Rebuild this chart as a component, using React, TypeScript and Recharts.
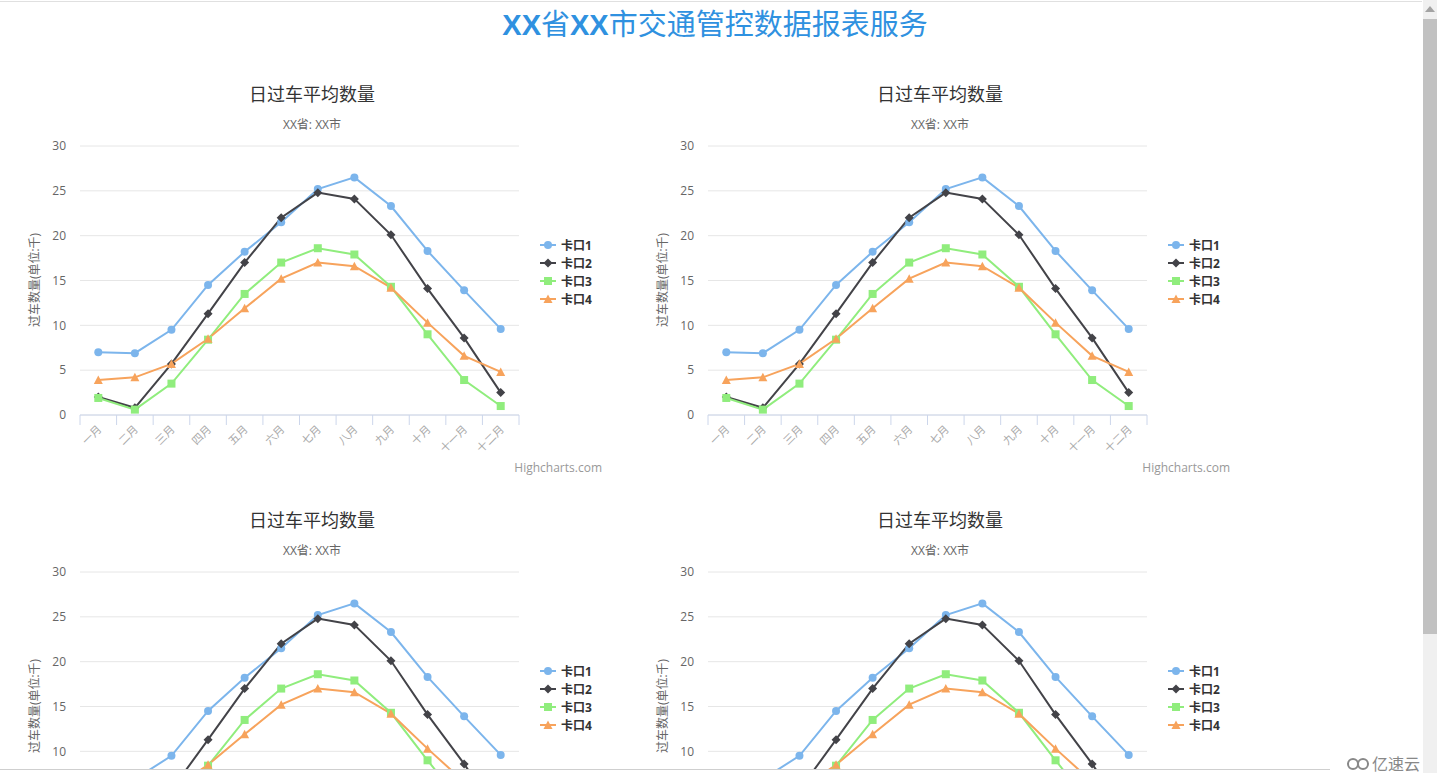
import React from "react";
import { CartesianGrid, Line, LineChart, XAxis, YAxis } from "recharts";

// Four copies of the same Highcharts-style line chart on a report page.

const months = ["一月", "二月", "三月", "四月", "五月", "六月", "七月", "八月", "九月", "十月", "十一月", "十二月"];
const gate1 = [7.0, 6.9, 9.5, 14.5, 18.2, 21.5, 25.2, 26.5, 23.3, 18.3, 13.9, 9.6];
const gate2 = [2.0, 0.8, 5.7, 11.3, 17.0, 22.0, 24.8, 24.1, 20.1, 14.1, 8.6, 2.5];
const gate3 = [1.9, 0.6, 3.5, 8.4, 13.5, 17.0, 18.6, 17.9, 14.3, 9.0, 3.9, 1.0];
const gate4 = [3.9, 4.2, 5.7, 8.5, 11.9, 15.2, 17.0, 16.6, 14.2, 10.3, 6.6, 4.8];
const yTicks = [0, 5, 10, 15, 20, 25, 30];
const seriesNames = ["卡口1", "卡口2", "卡口3", "卡口4"];
const seriesKeys = ["g1", "g2", "g3", "g4"];
const seriesColors = ["#7cb5ec", "#434348", "#90ed7d", "#f7a35c"];
const markers = ["circle", "diamond", "square", "triangle"];

const data = months.map((m, i) => ({ month: m, g1: gate1[i], g2: gate2[i], g3: gate3[i], g4: gate4[i] }));

const FONT = '"Open Sans", "Noto Sans CJK SC", sans-serif';
const W = 624;
const H = 420;
const PLOT_LEFT = 80;
const PLOT_RIGHT = 519;
const PLOT_TOP = 86;
const PLOT_BOTTOM = 355;
const BW = (PLOT_RIGHT - PLOT_LEFT) / months.length;

function Marker({ kind, cx, cy, color }: { kind: string; cx: number; cy: number; color: string }) {
  if (kind === "circle") return <circle cx={cx} cy={cy} r={4} fill={color} />;
  if (kind === "diamond")
    return <path d={`M${cx} ${cy - 4.5}L${cx + 4.5} ${cy}L${cx} ${cy + 4.5}L${cx - 4.5} ${cy}Z`} fill={color} />;
  if (kind === "square") return <rect x={cx - 4} y={cy - 4} width={8} height={8} fill={color} />;
  return <path d={`M${cx} ${cy - 4.5}L${cx + 4.5} ${cy + 4}L${cx - 4.5} ${cy + 4}Z`} fill={color} />;
}

function MonthTick(props: any) {
  const { x, payload, index } = props;
  const y = PLOT_BOTTOM;
  return (
    <g>
      {index === 0 && <line x1={x - BW / 2} x2={x - BW / 2} y1={y} y2={y + 10} stroke="#ccd6eb" />}
      <line x1={x + BW / 2} x2={x + BW / 2} y1={y} y2={y + 10} stroke="#ccd6eb" />
      <text
        x={x + 4}
        y={y + 15}
        transform={`rotate(-45 ${x + 4} ${y + 15})`}
        textAnchor="end"
        fontSize={11}
        fill="#aaa"
        fontFamily={FONT}
      >
        {payload.value}
      </text>
    </g>
  );
}

function Chart({ left, top }: { left: number; top: number }) {
  return (
    <div style={{ position: "absolute", left, top, width: W, height: H, fontFamily: FONT }}>
      <div style={{ position: "absolute", left: 0, width: W, top: 20, textAlign: "center", fontSize: 18, color: "#333" }}>
        日过车平均数量
      </div>
      <div style={{ position: "absolute", left: 0, width: W, top: 55, textAlign: "center", fontSize: 12, color: "#666" }}>
        XX省: XX市
      </div>
      <LineChart width={W} height={H} data={data} margin={{ top: PLOT_TOP, right: W - PLOT_RIGHT, bottom: 25, left: 0 }}>
        <CartesianGrid horizontal vertical={false} stroke="#e6e6e6" />
        <XAxis
          dataKey="month"
          height={40}
          interval={0}
          padding={{ left: BW / 2, right: BW / 2 }}
          axisLine={{ stroke: "#ccd6eb" }}
          tickLine={false}
          tick={<MonthTick />}
        />
        <YAxis
          width={PLOT_LEFT}
          domain={[0, 30]}
          ticks={yTicks}
          axisLine={false}
          tickLine={false}
          tickSize={12}
          tick={{ fontSize: 12, fill: "#666", fontFamily: FONT }}
        />
        {seriesKeys.map((k, si) => (
          <Line
            key={k}
            dataKey={k}
            type="linear"
            stroke={seriesColors[si]}
            strokeWidth={2}
            isAnimationActive={false}
            activeDot={false}
            dot={(p: any) => (
              <Marker key={`${k}-${p.index}`} kind={markers[si]} cx={p.cx} cy={p.cy} color={seriesColors[si]} />
            )}
          />
        ))}
      </LineChart>
      <div
        style={{
          position: "absolute",
          left: 34,
          top: 220,
          transform: "translate(-50%, -50%) rotate(-90deg)",
          whiteSpace: "nowrap",
          fontSize: 12,
          color: "#666",
        }}
      >
        过车数量(单位:千)
      </div>
      {seriesNames.map((n, i) => (
        <div
          key={n}
          style={{ position: "absolute", left: 540, top: 176 + i * 18, height: 18, display: "flex", alignItems: "center" }}
        >
          <svg width={18} height={18}>
            <line x1={0} x2={16} y1={9} y2={9} stroke={seriesColors[i]} strokeWidth={2} />
            <Marker kind={markers[i]} cx={8} cy={9} color={seriesColors[i]} />
          </svg>
          <span style={{ marginLeft: 3, fontSize: 12, fontWeight: "bold", color: "#333" }}>{n}</span>
        </div>
      ))}
      <div style={{ position: "absolute", right: 22, top: 399, fontSize: 12, color: "#999" }}>Highcharts.com</div>
    </div>
  );
}

export default function App() {
  return (
    <div style={{ position: "absolute", left: 0, top: 0, width: 1437, height: 773, overflow: "hidden", background: "#fff" }}>
      <div style={{ position: "absolute", left: 0, top: 1, width: 1422, height: 1, background: "#e0e0e0" }} />
      <div
        style={{
          position: "absolute",
          left: 0,
          width: 1430,
          top: 1,
          textAlign: "center",
          fontSize: 29,
          color: "#2f91e0",
          fontFamily: '"Noto Sans CJK SC", sans-serif',
        }}
      >
        <b style={{ fontFamily: '"Liberation Sans", Arial, sans-serif' }}>XX</b>省
        <b style={{ fontFamily: '"Liberation Sans", Arial, sans-serif' }}>XX</b>市交通管控数据报表服务
      </div>
      <Chart left={0} top={60} />
      <Chart left={628} top={60} />
      <Chart left={0} top={486} />
      <Chart left={628} top={486} />
      {/* page scrollbar and bottom strip */}
      <div style={{ position: "absolute", left: 1423, top: 0, width: 14, height: 773, background: "#f0f0f0" }} />
      <div style={{ position: "absolute", left: 1423, top: 19, width: 14, height: 615, background: "#c1c1c1" }} />
      <svg style={{ position: "absolute", left: 1425, top: 6 }} width={10} height={6}>
        <path d="M5 0L10 6L0 6Z" fill="#a3a3a3" />
      </svg>
      <div style={{ position: "absolute", left: 0, top: 769, width: 1330, height: 1, background: "#cfcfcf" }} />
      <div style={{ position: "absolute", left: 0, top: 770, width: 1423, height: 3, background: "#fff" }} />
      <div
        style={{
          position: "absolute",
          left: 1346,
          top: 751,
          display: "flex",
          alignItems: "center",
          fontSize: 16,
          color: "#888",
          fontFamily: '"Noto Sans CJK SC", sans-serif',
        }}
      >
        <svg width={24} height={16}>
          <circle cx={7} cy={9} r={5} fill="none" stroke="#888" strokeWidth={2} />
          <circle cx={17} cy={9} r={5} fill="none" stroke="#888" strokeWidth={2} />
        </svg>
        <span style={{ marginLeft: 2 }}>亿速云</span>
      </div>
    </div>
  );
}
